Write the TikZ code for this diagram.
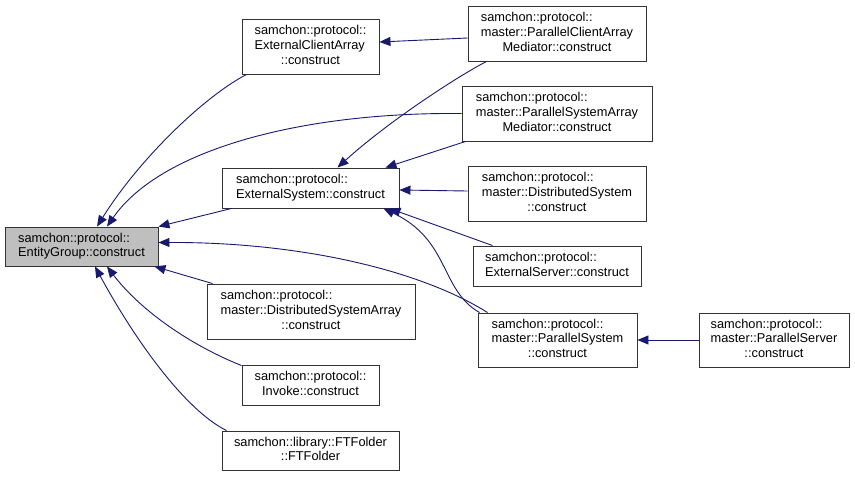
\documentclass[tikz,border=0pt]{standalone}
\usepackage{fontspec}
\setmainfont{Liberation Sans}
\usetikzlibrary{arrows.meta,calc}
\definecolor{edgec}{HTML}{191970}
\definecolor{boxc}{HTML}{333333}
\definecolor{hilite}{HTML}{BFBFBF}
\newcommand{\lbl}[2]{\begin{tabular}{@{}l@{}}#1\\\multicolumn{1}{@{}c@{}}{#2}\end{tabular}}
\newcommand{\lblb}[3]{\begin{tabular}{@{}l@{}}#1\\#2\\\multicolumn{1}{@{}c@{}}{#3}\end{tabular}}
\tikzset{
  fn/.style={draw=boxc, line width=0.9pt, fill=white, inner sep=0pt, align=center,
    font=\fontsize{12.8}{14.7}\selectfont},
  call/.style={draw=edgec, line width=0.9pt, -{Triangle[length=11pt,width=9pt]}},
}
\begin{document}
\begin{tikzpicture}[x=1pt,y=-1pt]
\useasboundingbox[fill=white] (0,0) rectangle (855,477);
% nodes
\node[fn, fill=hilite, minimum width=153, minimum height=39] (eg) at (81.5,246.5) {\lbl{samchon::protocol::}{EntityGroup::construct}};
\node[fn, minimum width=137, minimum height=55] (eca) at (310.5,46.5) {\lblb{samchon::protocol::}{ExternalClientArray}{::construct}};
\node[fn, minimum width=177, minimum height=40] (es) at (310.5,188) {\lbl{samchon::protocol::}{ExternalSystem::construct}};
\node[fn, minimum width=208, minimum height=55] (dsa) at (311,311.5) {\lblb{samchon::protocol::}{master::DistributedSystemArray}{::construct}};
\node[fn, minimum width=137, minimum height=40] (inv) at (310.5,385) {\lbl{samchon::protocol::}{Invoke::construct}};
\node[fn, minimum width=177, minimum height=39] (ftf) at (310.5,450.5) {\lbl{samchon::library::FTFolder}{::FTFolder}};
\node[fn, minimum width=178, minimum height=55] (pcam) at (557,33.5) {\lblb{samchon::protocol::}{master::ParallelClientArray}{Mediator::construct}};
\node[fn, minimum width=190, minimum height=55] (psam) at (557,113.5) {\lblb{samchon::protocol::}{master::ParallelSystemArray}{Mediator::construct}};
\node[fn, minimum width=178, minimum height=55] (ds) at (557,193.5) {\lblb{samchon::protocol::}{master::DistributedSystem}{::construct}};
\node[fn, minimum width=168, minimum height=40] (exs) at (557,266) {\lbl{samchon::protocol::}{ExternalServer::construct}};
\node[fn, minimum width=159, minimum height=54] (ps) at (557.5,340) {\lblb{samchon::protocol::}{master::ParallelSystem}{::construct}};
\node[fn, minimum width=150, minimum height=54] (psv) at (774,340) {\lblb{samchon::protocol::}{master::ParallelServer}{::construct}};
% edges into EntityGroup
\draw[call] ($(eca.south west)+(5,0)$) .. controls (205,96) and (140,158) .. ($(eg.north)+(15.5,0)$);
\draw[call] (psam.west) .. controls (300,112) and (160,150) .. ($(eg.north)+(25.5,0)$);
\draw[call] ($(es.south west)+(10,0)$) -- (eg.north east);
\draw[call] ($(ps.north west)+(10,0)$) .. controls (420,270) and (300,242) .. ($(eg.east)+(0,-4)$);
\draw[call] ($(dsa.north west)+(6,0)$) -- ($(eg.south east)+(-4,0)$);
\draw[call] ($(inv.north west)+(0,1)$) .. controls (190,345) and (140,310) .. ($(eg.south)+(25.5,0)$);
\draw[call] ($(ftf.north west)+(5,0)$) .. controls (185,410) and (135,340) .. ($(eg.south)+(13.5,0)$);
% edges into ExternalClientArray / ExternalSystem
\draw[call] ($(pcam.west)+(0,4.5)$) -- ($(eca.east)+(0,-4.5)$);
\draw[call] ($(pcam.south west)+(19,0)$) .. controls (460,75) and (390,120) .. ($(es.north)+(27,0)$);
\draw[call] ($(psam.south west)+(4,0)$) -- ($(es.north east)+(-14,0)$);
\draw[call] ($(ds.west)+(0,-2.5)$) -- ($(es.east)+(0,2)$);
\draw[call] ($(exs.north west)+(20,0)$) -- ($(es.south east)+(-10,0)$);
\draw[call] ($(ps.north west)+(2,0)$) .. controls (440,290) and (450,240) .. ($(es.south east)+(-16,0)$);
\draw[call] (psv.west) -- (ps.east);
\end{tikzpicture}
\end{document}
